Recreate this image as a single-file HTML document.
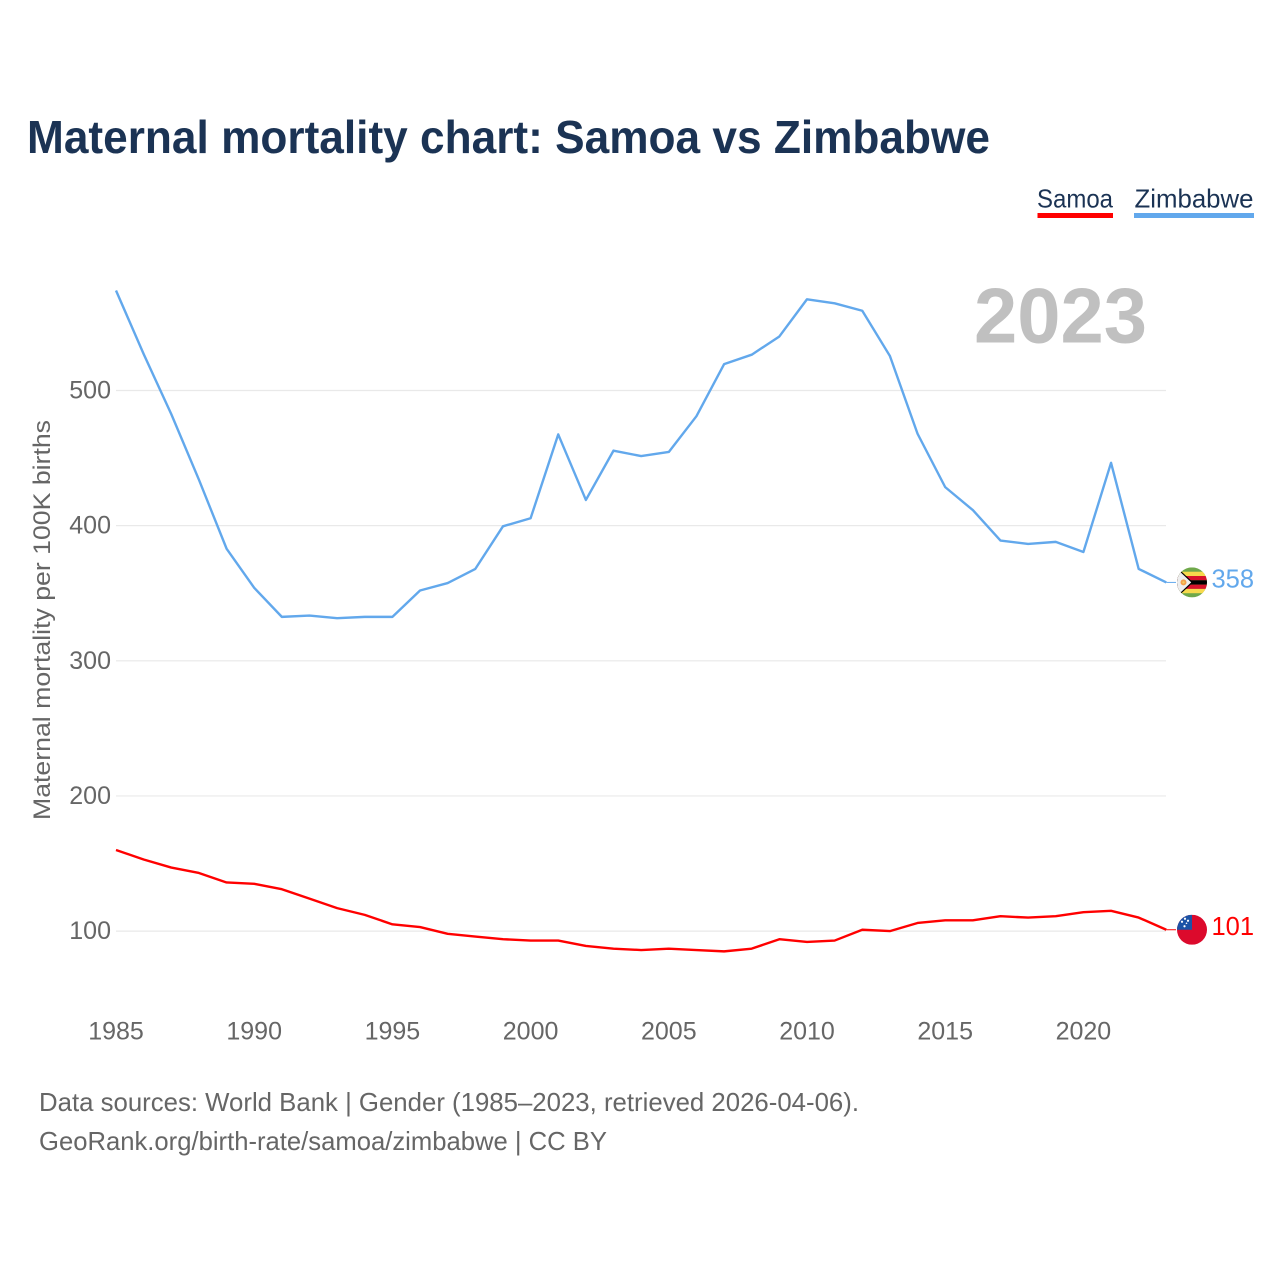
<!DOCTYPE html>
<html lang="en">
<head>
<meta charset="utf-8">
<title>Maternal mortality chart: Samoa vs Zimbabwe</title>
<style>
html,body{margin:0;padding:0;background:#fff;width:1280px;height:1280px;overflow:hidden}
svg{display:block}
text{font-family:"Liberation Sans",sans-serif}
</style>
</head>
<body>
<svg id="chart" xmlns="http://www.w3.org/2000/svg" width="1280" height="1280" viewBox="0 0 1280 1280">
  <defs>
    <clipPath id="flag-clip"><circle cx="0" cy="0" r="15"></circle></clipPath>
  </defs>
  <rect x="0" y="0" width="1280" height="1280" fill="#fff"></rect>
  <text x="27" y="153" font-size="46" font-weight="700" fill="#1b3354" textLength="963" lengthAdjust="spacingAndGlyphs">Maternal mortality chart: Samoa vs Zimbabwe</text>

  <g>
    <g>
      <text x="1037" y="207.5" font-size="26" fill="#1b3354" textLength="76" lengthAdjust="spacingAndGlyphs">Samoa</text>
      <rect x="1037.5" y="213" width="75.5" height="5" fill="#ff0000"></rect>
    </g>
    <g>
      <text x="1134.5" y="207.5" font-size="26" fill="#1b3354" textLength="119" lengthAdjust="spacingAndGlyphs">Zimbabwe</text>
      <rect x="1134" y="213" width="120" height="5" fill="#62a8ec"></rect>
    </g>
  </g>

  <g id="grid"></g>
  <g id="y-ticks"></g>
  <g id="x-ticks"></g>
  <text transform="translate(50 820) rotate(-90)" x="0" y="0" font-size="24" fill="#666" textLength="400" lengthAdjust="spacingAndGlyphs">Maternal mortality per 100K births</text>
  <text x="974" y="342.5" font-size="78" font-weight="700" fill="#c0c0c0" textLength="173" lengthAdjust="spacingAndGlyphs">2023</text>
  <g id="series"></g>
  <g id="ends"></g>

  <text x="39" y="1111" font-size="26" fill="#666" textLength="820" lengthAdjust="spacingAndGlyphs">Data sources: World Bank | Gender (1985–2023, retrieved 2026-04-06).</text>
  <text x="39" y="1150" font-size="26" fill="#666" textLength="568" lengthAdjust="spacingAndGlyphs">GeoRank.org/birth-rate/samoa/zimbabwe | CC BY</text>
</svg>
<script>
const years = [1985,1986,1987,1988,1989,1990,1991,1992,1993,1994,1995,1996,1997,1998,1999,2000,2001,2002,2003,2004,2005,2006,2007,2008,2009,2010,2011,2012,2013,2014,2015,2016,2017,2018,2019,2020,2021,2022,2023];
const zimbabweValues = [574,527,482.5,434,383,354,332.5,333.5,331.5,332.5,332.5,352,357.5,368,399.5,405.5,467.5,419,455.5,451.5,454.5,481,519.5,526.5,540,567.5,564.5,559,525.5,468,428.5,411.5,389,386.5,388,380.5,446.5,368,358];
const samoaValues = [160,153,147,143,136,135,131,124,117,112,105,103,98,96,94,93,93,89,87,86,87,86,85,87,94,92,93,101,100,106,108,108,111,110,111,114,115,110,101];
const xTickLabels = [1985,1990,1995,2000,2005,2010,2015,2020];
const yTickLabels = [100,200,300,400,500];

const NS = 'http://www.w3.org/2000/svg';
function xScale(year){ return 116 + (year - 1985) * 27.64; }
function yScale(v){ return 931.1 - (v - 100) * 1.3515; }
function make(parent, tag, attrs, text){
  const el = document.createElementNS(NS, tag);
  for (const k in attrs) el.setAttribute(k, attrs[k]);
  if (text !== undefined) el.textContent = text;
  parent.appendChild(el);
  return el;
}

const grid = document.getElementById('grid');
const yTicks = document.getElementById('y-ticks');
yTickLabels.forEach(function(v){
  const y = yScale(v);
  const line = make(grid, 'line', {x1:116, x2:1166, y1:y, y2:y, stroke:'#e9e9e9', 'stroke-width':1.2});
  
  
  const label = make(yTicks, 'text', {x:111, y:y+8, 'text-anchor':'end', 'font-size':25, fill:'#666'}, String(v));
  
  
});

const xTicks = document.getElementById('x-ticks');
xTickLabels.forEach(function(yr){
  const label = make(xTicks, 'text', {x:xScale(yr), y:1039.5, 'text-anchor':'middle', 'font-size':25, fill:'#666'}, String(yr));
  
  
});

function pathFor(values){
  return values.map(function(v, i){
    return (i ? 'L' : 'M') + xScale(years[i]).toFixed(2) + ' ' + yScale(v).toFixed(2);
  }).join(' ');
}
const series = document.getElementById('series');
const zimLine = make(series, 'path', {d:pathFor(zimbabweValues), fill:'none', stroke:'#62a8ec', 'stroke-width':2.4, 'stroke-linejoin':'round'});


const samLine = make(series, 'path', {d:pathFor(samoaValues), fill:'none', stroke:'#ff0000', 'stroke-width':2.4, 'stroke-linejoin':'round'});



const ends = document.getElementById('ends');
const lastX = xScale(years[years.length - 1]);
const zimLast = zimbabweValues[zimbabweValues.length - 1];
const samLast = samoaValues[samoaValues.length - 1];

/* connectors */
const zimConn = make(ends, 'line', {x1:lastX, x2:1176, y1:yScale(zimLast), y2:yScale(zimLast), stroke:'#62a8ec', 'stroke-width':1});


const samConn = make(ends, 'line', {x1:lastX, x2:1176, y1:yScale(samLast), y2:yScale(samLast), stroke:'#ff0000', 'stroke-width':1});



/* Zimbabwe flag */
const zimFlag = make(ends, 'g', {transform:'translate(1192 ' + yScale(zimLast).toFixed(2) + ')', 'clip-path':'url(#flag-clip)'});


make(zimFlag, 'rect', {x:-15, y:-15, width:30, height:30, fill:'#6fa84a'});
make(zimFlag, 'rect', {x:-15, y:-10.7, width:30, height:4.3, fill:'#f7d94c'});
make(zimFlag, 'rect', {x:-15, y:-6.4, width:30, height:4.3, fill:'#d8132b'});
make(zimFlag, 'rect', {x:-15, y:-2.1, width:30, height:4.3, fill:'#000'});
make(zimFlag, 'rect', {x:-15, y:2.2, width:30, height:4.3, fill:'#d8132b'});
make(zimFlag, 'rect', {x:-15, y:6.5, width:30, height:4.3, fill:'#f7d94c'});
make(zimFlag, 'polygon', {points:'-15,-15 1,0 -15,15', fill:'#000'});
make(zimFlag, 'polygon', {points:'-15,-13.5 -0.8,0 -15,13.5', fill:'#eeeeee'});
make(zimFlag, 'circle', {cx:-8.5, cy:0, r:3, fill:'#f4a04a'});
make(zimFlag, 'circle', {cx:-8.5, cy:0, r:1.2, fill:'#f4d060'});

const zimValue = make(ends, 'text', {x:1254, y:yScale(zimLast)+5, 'text-anchor':'end', 'font-size':25.5, fill:'#62a8ec'}, String(zimLast));



/* Samoa flag */
const samFlag = make(ends, 'g', {transform:'translate(1192 ' + yScale(samLast).toFixed(2) + ')', 'clip-path':'url(#flag-clip)'});


make(samFlag, 'rect', {x:-15, y:-15, width:30, height:30, fill:'#dc0a2c'});
make(samFlag, 'rect', {x:-15, y:-15, width:15, height:15, fill:'#1c53a6'});
make(samFlag, 'circle', {cx:-7, cy:-11, r:1.1, fill:'#fff'});
make(samFlag, 'circle', {cx:-10, cy:-8, r:1.1, fill:'#fff'});
make(samFlag, 'circle', {cx:-4, cy:-9, r:1.1, fill:'#fff'});
make(samFlag, 'circle', {cx:-5.5, cy:-6.5, r:0.8, fill:'#fff'});
make(samFlag, 'circle', {cx:-7.5, cy:-3.5, r:1.1, fill:'#fff'});

const samValue = make(ends, 'text', {x:1254, y:yScale(samLast)+5.5, 'text-anchor':'end', 'font-size':25.5, fill:'#ff0000'}, String(samLast));


</script>
</body>
</html>
